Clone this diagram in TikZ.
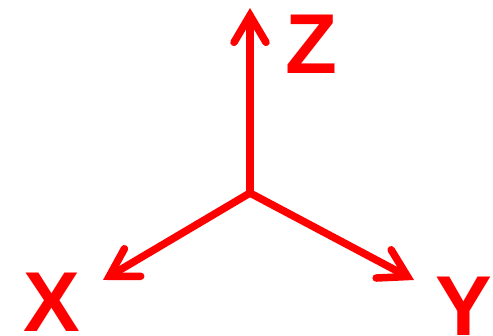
\documentclass[tikz,border=0pt]{standalone}
\usepackage{fontspec}
\setmainfont{Liberation Sans}
\usetikzlibrary{arrows.meta}
\definecolor{axisred}{RGB}{255,0,0}
\tikzset{
  axis/.style={draw=axisred, line width=7.5pt, line cap=round,
    -{Straight Barb[length=27pt, width=32pt, line cap=round, line join=miter]}},
  lbl/.style={text=axisred, font=\fontsize{85}{85}\selectfont\bfseries, inner sep=0pt, anchor=base west}
}
\begin{document}
\begin{tikzpicture}[x=1pt,y=-1pt]
\useasboundingbox (0,0) rectangle (493,336);
\coordinate (o) at (250,193);
\coordinate (zt) at (250,8);
\coordinate (xt) at (103,280);
\coordinate (yt) at (414,280);
\draw[axis] (o) -- (zt);
\draw[axis] (o) -- (xt);
\draw[axis] (o) -- (yt);
\node[lbl] (zl) at (285,74) {Z};
\node[lbl] (xl) at (23,332) {X};
\node[lbl] (yl) at (435,336) {Y};
\end{tikzpicture}
\end{document}
